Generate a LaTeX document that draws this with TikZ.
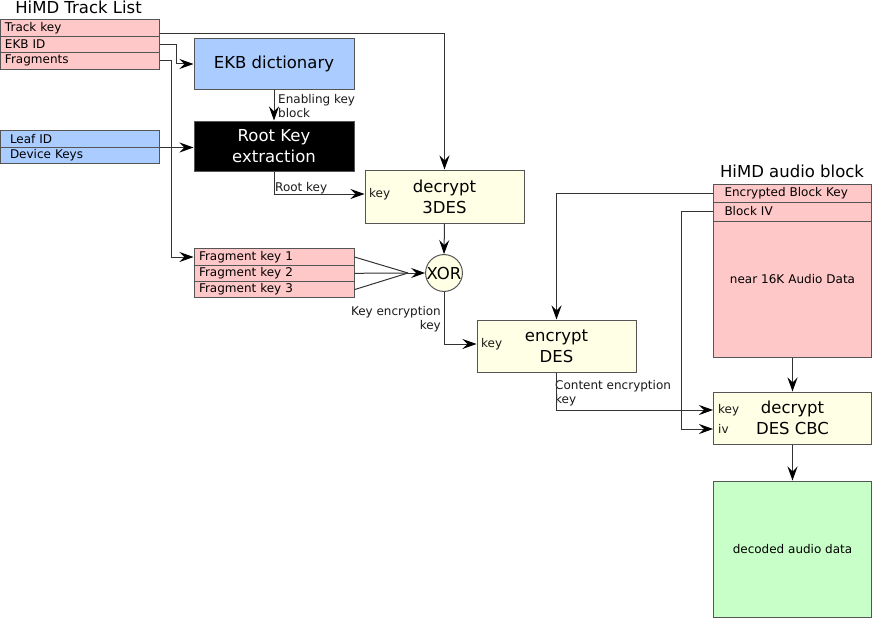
\documentclass[tikz,border=0pt]{standalone}
\usepackage{fontspec}
\setmainfont{DejaVu Sans}
\usetikzlibrary{arrows.meta,positioning}
\definecolor{hmrosa}{HTML}{FFC8C8}
\definecolor{hmazul}{HTML}{AACCFF}
\definecolor{hmamarelo}{HTML}{FFFFE6}
\definecolor{hmverde}{HTML}{C8FFC8}
\definecolor{hmborda}{HTML}{555555}
\definecolor{hmtraco}{HTML}{333333}
\newcommand{\hmpeq}{\fontsize{12pt}{14pt}\selectfont}
\newcommand{\hmgrande}{\fontsize{16.5pt}{21pt}\selectfont}
\tikzset{
  hmcampo/.style={draw=hmborda, line width=1pt, fill=hmrosa, font=\hmpeq, align=left,
                  text width=149pt, inner xsep=5pt, inner ysep=0pt, minimum height=16.4pt},
  hmbloco/.style={draw=hmborda, line width=1pt, fill=hmamarelo, font=\hmgrande, align=center,
                  minimum width=159pt, minimum height=52pt, inner sep=0pt},
  hmseta/.style={-{Stealth[length=14pt,width=10pt,inset=5pt,color=black]}, line width=1pt, draw=hmtraco},
  hmfio/.style={line width=1pt, draw=hmtraco},
  hmrotulo/.style={font=\hmpeq, text=black!90, inner sep=0pt},
  hmtitulo/.style={font=\hmgrande, inner sep=0pt},
}

\begin{document}
\begin{tikzpicture}[x=1pt, y=-1pt]
        \useasboundingbox (0,0) rectangle (872,618);
        % ---------------- track list ----------------
        \node[hmtitulo] (ttl) at (78.5,7) {HiMD Track List};
        \node[hmcampo] (tk1) at (79.5,28.2) {Track key};
        \node[hmcampo] (tk2) at (79.5,44.5) {EKB ID};
        \node[hmcampo] (tk3) at (79.5,60.8) {Fragments};
        \node[hmcampo, fill=hmazul, inner xsep=10pt, text width=139pt] (lf1) at (79.5,138.8) {Leaf ID};
        \node[hmcampo, fill=hmazul, inner xsep=10pt, text width=139pt] (lf2) at (79.5,155.2) {Device Keys};
        % ---------------- blocos ----------------
        \node[hmbloco, fill=hmazul, minimum width=160pt, minimum height=50pt] (ekb) at (274,64) {EKB dictionary};
        \node[hmbloco, fill=black, text=white, minimum width=160pt, minimum height=50pt] (rke) at (274,146) {Root Key\\extraction};
        \node[hmbloco, minimum height=53pt] (d3des) at (444.5,196.5) {decrypt\\3DES};
        \node[hmcampo, text width=150pt] (fk1) at (274,257) {Fragment key 1};
        \node[hmcampo, text width=150pt] (fk2) at (274,273.3) {Fragment key 2};
        \node[hmcampo, text width=150pt] (fk3) at (274,289.6) {Fragment key 3};
        \node[draw=hmborda, line width=1pt, fill=hmamarelo, circle, minimum size=36pt, inner sep=0pt, font=\hmgrande] (xor) at (444,273) {XOR};
        \coordinate (xin) at (408,273);
        \node[hmbloco] (denc) at (556.5,346) {encrypt\\DES};
        % ---------------- audio block ----------------
        \node[hmtitulo] (ttr) at (792,171) {HiMD audio block};
        \node[hmcampo, inner xsep=11pt, text width=136pt, minimum height=18pt] (abk) at (792.5,193) {Encrypted Block Key};
        \node[hmcampo, inner xsep=11pt, text width=136pt, minimum height=19pt] (abiv) at (792.5,211.5) {Block IV};
        \node[hmcampo, align=center, text width=158pt, inner xsep=0pt, minimum height=136pt, text depth=20pt] (ab3) at (792.5,289) {near 16K Audio Data};
        \node[hmbloco, minimum width=158pt] (dcbc) at (792.5,418) {decrypt\\DES CBC};
        \node[hmbloco, fill=hmverde, font=\hmpeq, minimum width=158pt, minimum height=136pt] (dec) at (792.5,549) {decoded audio data};
        % ---------------- rotulos ----------------
        \node[hmrotulo, anchor=west] (k3des) at (369,194) {key};
        \node[hmrotulo, anchor=west] (kenc) at (481,344) {key};
        \node[hmrotulo, anchor=west] (kcbc) at (718,410) {key};
        \node[hmrotulo, anchor=west] (ivcbc) at (718,429) {iv};
        \node[hmrotulo, anchor=north west, align=left] (lekb) at (278,94) {Enabling key\\block};
        \node[hmrotulo, anchor=base west] (lrk) at (275,191) {Root key};
        \node[hmrotulo, anchor=north east, align=right] (lkek) at (441,306) {Key encryption\\key};
        \node[hmrotulo, anchor=north west, align=left] (lcek) at (555,380) {Content encryption\\key};
        % ---------------- setas ----------------
        \draw[hmseta] ([yshift=-5pt]tk1.east) -| (d3des.north);
        \draw[hmseta] (tk2.east) -- ++(17,0) |- (ekb.west);
        \draw[hmseta] (tk3.east) -- ++(12,0) |- (fk1.west);
        \draw[hmseta] (ekb.south) -- (rke.north);
        \draw[hmseta] (lf1.south east) -- (lf1.south east -| rke.west);
        \draw[hmseta] (rke.south) |- (k3des.west -| d3des.west);
        \draw[hmseta] (d3des.south) -- (xor.north);
        \draw[hmfio] (fk1.east) -- (xin);
        \draw[hmfio] (fk2.east) -- (xin);
        \draw[hmfio] (fk3.east) -- (xin);
        \draw[hmseta] (xin) -- (xor.west);
        \draw[hmseta] (xor.south) |- (kenc.west -| denc.west);
        \draw[hmseta] (abk.west) -| (denc.north);
        \draw[hmseta] (abiv.west) -- ++(-32,0) |- (ivcbc.west -| dcbc.west);
        \draw[hmseta] (denc.south) |- (kcbc.west -| dcbc.west);
        \draw[hmseta] (ab3.south) -- (dcbc.north);
        \draw[hmseta] (dcbc.south) -- (dec.north);
\end{tikzpicture}
\end{document}
